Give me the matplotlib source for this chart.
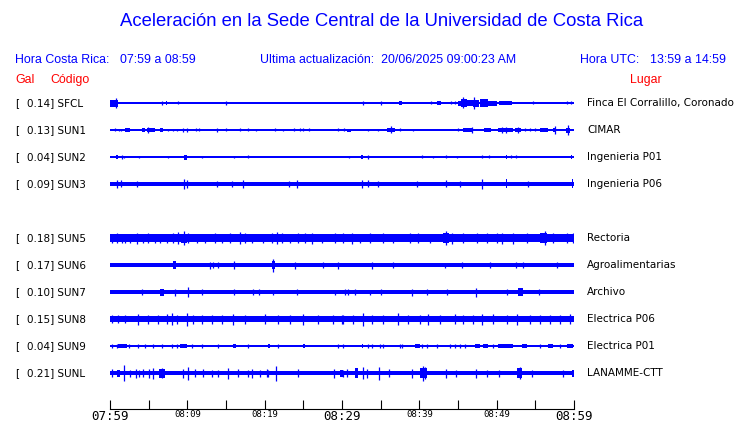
import matplotlib
matplotlib.use("Agg")
import matplotlib.pyplot as plt

# estaciones, de arriba hacia abajo (la fila 4 queda vacia en el original)
codigos = ["SFCL", "SUN1", "SUN2", "SUN3", "SUN5", "SUN6", "SUN7", "SUN8", "SUN9", "SUNL"]
filas = [0, 1, 2, 3, 5, 6, 7, 8, 9, 10]
gal = [0.14, 0.13, 0.04, 0.09, 0.18, 0.17, 0.10, 0.15, 0.04, 0.21]
lugares = ["Finca El Corralillo, Coronado", "CIMAR", "Ingenieria P01", "Ingenieria P06",
           "Rectoria", "Agroalimentarias", "Archivo", "Electrica P06", "Electrica P01",
           "LANAMME-CTT"]

# nivel de ruido de fondo de cada traza (amplitud relativa)
ruido = [0.7, 0.7, 0.7, 2.0, 3.6, 1.7, 1.8, 2.8, 0.8, 2.2]

# eventos: (minuto inicio, minuto fin, amplitud)
# minutos contados desde las 07:59; inicio == fin es un pico aislado
ev_sfcl = [(0.0, 1.0, 3.5), (0.77, 0.77, 5), (6.77, 6.77, 2), (7.2, 7.35, 2), (8.84, 8.84, 1.5),
           (15.04, 15.04, 2), (32.76, 32.76, 2), (35.08, 35.08, 2), (37.4, 37.7, 2),
           (41.46, 41.46, 1.5), (42.3, 42.8, 2), (44.09, 44.09, 1.5), (44.61, 44.61, 1.5),
           (45.04, 45.4, 2.5), (45.4, 46.1, 4), (45.69, 45.69, 5.5), (46.1, 46.9, 3),
           (46.9, 47.76, 3.5), (47.07, 47.07, 6), (47.84, 48.92, 4), (48.92, 50.0, 2.5),
           (50.34, 51.94, 2), (54.7, 54.7, 1.5), (59.1, 59.1, 1.5), (59.6, 59.6, 1.5)]
ev_sun1 = [(0.65, 0.65, 1.5), (1.16, 1.16, 1), (1.42, 1.42, 1), (1.94, 2.6, 2), (4.18, 4.5, 2),
           (4.74, 5.82, 2), (4.96, 4.96, 3), (6.5, 6.9, 2), (7.54, 7.54, 1), (8.2, 8.2, 1),
           (8.6, 8.6, 1), (9.5, 9.5, 2), (9.9, 9.9, 2), (11.1, 11.1, 1.5), (11.5, 11.5, 1.5),
           (13.84, 13.84, 2), (14.96, 14.96, 1.5), (16.86, 16.86, 1.5), (17.89, 17.89, 1.5),
           (18.84, 18.84, 1), (21.34, 21.34, 1.5), (22.42, 22.42, 1), (23.84, 23.84, 1.5),
           (24.58, 24.58, 1.5), (25.0, 25.0, 1.5), (25.73, 25.73, 1.5), (29.53, 29.53, 1.5),
           (30.2, 30.2, 1.5), (30.7, 31.2, 1.5), (33.4, 33.4, 1), (34.7, 34.7, 1),
           (35.8, 36.9, 2), (36.4, 36.4, 3.5), (37.5, 37.5, 1.5), (39.2, 39.2, 1),
           (45.0, 45.0, 1.5), (45.7, 46.8, 2), (46.8, 46.8, 3), (48.3, 49.3, 2),
           (50.2, 52.1, 2), (50.65, 50.65, 3), (51.2, 51.2, 3), (52.4, 53.2, 2), (52.8, 52.8, 3),
           (53.7, 53.7, 1.5), (54.3, 54.3, 1.5), (55.0, 55.0, 1.5), (55.6, 56.7, 2),
           (57.3, 57.7, 2), (57.5, 57.5, 4), (59.0, 59.5, 2.5), (59.25, 59.25, 5)]
ev_sun2 = [(0.8, 1.0, 2), (1.5, 1.5, 2), (1.85, 1.85, 1), (3.7, 3.7, 1), (7.5, 7.5, 1),
           (9.6, 9.9, 2.5), (11.9, 11.9, 1), (16.0, 16.0, 1), (17.9, 17.9, 1.5), (30.9, 30.9, 1),
           (32.4, 32.7, 2), (33.4, 33.4, 2), (40.3, 40.3, 1.5), (41.8, 41.8, 1), (43.4, 43.4, 1.5),
           (44.9, 44.9, 1), (48.1, 48.1, 1.5), (49.0, 49.0, 1.5), (51.2, 51.4, 2),
           (51.9, 51.9, 1.5), (52.5, 52.5, 1.5), (59.6, 59.8, 2)]
ev_sun3 = [(0.9, 0.9, 4), (1.4, 1.4, 3.5), (3.5, 3.5, 3), (9.6, 9.6, 5), (9.9, 9.9, 4),
           (13.9, 13.9, 3), (15.8, 15.8, 3), (17.2, 17.2, 4), (23.2, 23.2, 3), (24.2, 24.2, 4),
           (32.6, 32.6, 4), (33.4, 33.4, 3.5), (34.7, 34.7, 3), (39.7, 39.7, 3), (43.4, 43.4, 3.5),
           (45.2, 45.2, 3), (48.1, 48.1, 5), (51.2, 51.4, 4.5), (54.0, 54.0, 3), (59.7, 59.9, 4.5)]
ev_sun5 = [(0.22, 0.22, 4.5), (0.86, 0.86, 5), (1.51, 1.51, 4.5), (1.94, 1.94, 4.5),
           (2.59, 2.59, 4.5), (3.53, 3.53, 5.5), (4.31, 4.31, 4.5), (4.96, 4.96, 5),
           (5.82, 5.82, 4.5), (6.47, 6.47, 4.5), (7.33, 7.33, 4.5), (8.19, 8.19, 5),
           (8.75, 8.75, 6), (9.2, 9.9, 4.5), (9.57, 9.57, 7), (10.13, 10.13, 5), (11.21, 11.21, 4.5),
           (12.28, 12.28, 4.5), (13.58, 13.58, 5), (14.44, 14.44, 4.5), (15.52, 15.52, 5),
           (16.81, 16.81, 6), (17.46, 17.46, 5), (18.32, 18.32, 4.5), (19.83, 19.83, 4.5),
           (20.91, 20.91, 5), (21.55, 21.55, 6), (22.2, 22.2, 5), (23.28, 23.28, 4.5),
           (24.35, 24.35, 5), (25.22, 25.22, 5), (26.08, 26.08, 5.5), (27.37, 27.37, 4.5),
           (29.1, 29.1, 5), (30.17, 30.17, 5), (31.25, 31.25, 5.5), (32.33, 32.33, 4.5),
           (33.62, 33.62, 5), (35.35, 35.35, 5), (36.64, 36.64, 4.5), (38.79, 38.79, 5),
           (39.87, 39.87, 5), (41.38, 41.38, 4.5), (43.0, 43.9, 5), (43.45, 43.45, 7),
           (44.18, 44.18, 5.5), (45.69, 45.69, 5), (47.41, 47.41, 5), (48.71, 48.71, 5),
           (50.0, 50.0, 5), (50.65, 50.65, 5.5), (52.16, 52.16, 5.5), (53.88, 53.88, 5),
           (55.6, 56.5, 5), (56.25, 56.25, 7), (57.33, 57.33, 5), (59.05, 59.05, 5), (59.9, 59.9, 5)]
ev_sun6 = [(8.19, 8.5, 4), (12.93, 12.93, 3.5), (13.36, 13.36, 3), (14.0, 14.0, 3),
           (16.08, 16.08, 4), (20.9, 21.3, 4), (21.04, 21.04, 6.5), (23.92, 23.92, 3.5),
           (27.58, 27.58, 3), (29.5, 29.5, 3.5), (33.84, 33.84, 3.5), (36.64, 36.64, 3),
           (43.38, 43.38, 2.5), (45.54, 45.54, 3), (49.2, 49.2, 3), (52.46, 52.46, 3),
           (53.45, 53.45, 3), (57.76, 57.76, 3)]
ev_sun7 = [(4.09, 4.09, 3), (6.46, 6.98, 3.5), (8.4, 8.4, 3.5), (10.04, 10.04, 5),
           (11.85, 11.85, 3), (16.08, 16.08, 3), (18.45, 18.45, 3), (19.31, 19.31, 3),
           (21.12, 21.12, 2.5), (24.14, 24.14, 3), (29.1, 29.1, 2.5), (30.39, 30.39, 3),
           (30.82, 30.82, 3), (31.68, 31.68, 3), (33.62, 33.62, 2.5), (35.04, 35.04, 3),
           (39.01, 39.01, 3.5), (41.03, 41.03, 3), (43.53, 43.53, 3), (47.28, 47.28, 4.5),
           (51.29, 51.29, 3), (52.8, 53.36, 4), (55.52, 55.52, 3)]
ev_sun8 = [(0.22, 0.22, 4), (1.08, 1.08, 4), (1.94, 1.94, 4), (3.66, 3.66, 5.5), (4.96, 4.96, 4.5),
           (6.25, 6.25, 4.5), (7.33, 7.33, 5), (7.97, 7.97, 6), (8.62, 8.62, 4.5), (9.91, 9.91, 6.5),
           (10.78, 10.78, 4.5), (11.85, 11.85, 4.5), (13.15, 13.15, 4.5), (14.44, 14.44, 4.5),
           (15.95, 15.95, 5.5), (17.46, 17.46, 4.5), (20.04, 20.04, 5), (21.77, 21.77, 4.5),
           (23.28, 23.28, 4.5), (25.0, 25.0, 5.5), (26.94, 26.94, 4.5), (28.88, 28.88, 4.5),
           (29.96, 29.96, 4.5), (30.17, 30.17, 4.5), (31.46, 31.46, 4.5), (32.67, 32.67, 6.5),
           (33.84, 33.84, 4.5), (35.34, 35.34, 4.5), (37.28, 37.28, 6), (38.58, 38.58, 4.5),
           (40.09, 40.09, 4.5), (41.16, 41.16, 5.5), (42.67, 42.67, 4.5), (44.61, 44.61, 5),
           (45.69, 45.69, 4.5), (46.98, 46.98, 4.5), (48.06, 48.06, 5.5), (49.57, 49.57, 5),
           (51.29, 51.29, 4.5), (52.59, 52.59, 5.5), (54.31, 54.31, 4.5), (55.6, 55.6, 4.5),
           (56.9, 56.9, 4.5), (58.19, 58.19, 4.5), (59.48, 59.48, 5)]
ev_sun9 = [(0.22, 0.22, 1.8), (0.86, 0.86, 1.8), (1.08, 2.15, 1.6), (2.46, 2.46, 1.8),
           (3.66, 3.66, 1.8), (4.53, 4.53, 1.8), (5.6, 5.6, 1.8), (6.68, 6.68, 1.8),
           (7.97, 7.97, 1.8), (8.62, 8.62, 1.8), (9.05, 9.91, 1.6), (10.65, 10.65, 1.8),
           (11.85, 11.85, 1.8), (14.0, 14.0, 1.8), (15.95, 16.25, 1.6), (17.89, 17.89, 1.8),
           (20.39, 20.69, 1.6), (21.77, 21.77, 1.8), (25.0, 25.22, 1.6), (29.53, 29.53, 1.8),
           (30.09, 30.09, 1.8), (32.54, 32.76, 1.6), (33.4, 33.4, 1.8), (33.84, 33.84, 1.8),
           (34.91, 34.91, 1.8), (35.34, 35.34, 1.8), (37.5, 37.5, 1.8), (37.71, 37.71, 1.8),
           (39.44, 40.09, 1.6), (40.3, 40.3, 1.8), (40.95, 40.95, 1.8), (42.24, 42.24, 1.8),
           (43.96, 43.96, 1.8), (44.61, 44.61, 1.8), (45.26, 45.26, 1.8), (45.9, 45.9, 1.8),
           (47.2, 47.84, 1.6), (48.27, 48.92, 1.6), (49.57, 49.57, 1.8), (50.21, 52.15, 1.6),
           (53.23, 53.88, 1.6), (55.6, 55.6, 1.8), (56.68, 57.33, 1.6), (58.19, 58.19, 1.8),
           (59.05, 59.91, 1.6)]
ev_sunl = [(0.22, 0.22, 4), (0.86, 1.29, 3.5), (1.85, 1.85, 8), (2.59, 2.59, 3.5), (3.32, 3.32, 4.5),
           (3.79, 3.79, 3.5), (4.31, 4.31, 4), (5.09, 5.09, 4.5), (5.6, 5.6, 5.5), (6.38, 7.11, 4.5),
           (6.68, 6.68, 5), (9.48, 9.48, 4.5), (10.04, 10.04, 6.5), (10.99, 10.99, 4),
           (12.07, 12.07, 4), (13.23, 13.23, 3.5), (14.0, 14.0, 3.5), (15.22, 15.22, 5.5),
           (16.51, 16.51, 4), (17.89, 17.89, 3.5), (18.32, 18.32, 4.5), (19.4, 19.4, 3.5),
           (20.26, 20.26, 4), (20.48, 20.48, 3.5), (21.42, 21.42, 7.5), (24.27, 24.27, 4),
           (29.01, 29.01, 4.5), (29.74, 30.17, 3.5), (30.09, 30.09, 3.5), (30.69, 30.69, 4),
           (31.68, 32.11, 5), (32.67, 32.67, 6), (33.19, 33.19, 4.5), (34.83, 34.83, 6.5),
           (36.12, 36.12, 4), (39.01, 39.01, 4.5), (40.09, 41.03, 5), (40.52, 40.52, 7.5),
           (40.73, 40.73, 6), (43.45, 43.45, 4.5), (44.74, 44.74, 3.5), (47.33, 47.33, 4.5),
           (48.71, 48.71, 3.5), (50.34, 50.34, 3.5), (52.59, 53.23, 5), (53.02, 53.02, 6),
           (54.53, 54.53, 3.5), (58.53, 58.53, 3.5), (59.7, 60.0, 3.5)]
eventos = [ev_sfcl, ev_sun1, ev_sun2, ev_sun3, ev_sun5, ev_sun6, ev_sun7, ev_sun8, ev_sun9, ev_sunl]

ticks_min = list(range(0, 61, 5))
ticks_txt = ["07:59", "", "08:09", "", "08:19", "", "08:29", "", "08:39", "", "08:49", "", "08:59"]

W, H = 740, 423
AZUL = "#0000ff"
ROJO = "#ff0000"

fig = plt.figure(figsize=(W / 100, H / 100), dpi=100)

def px(x, y):
    return x / W, 1 - y / H

# zona de trazas: x 110..574 px, eje inferior en y=409 px
ax = fig.add_axes([110 / W, 1 - 409 / H, 464 / W, (409 - 88) / H])
ax.set_xlim(0, 60)
ax.set_ylim(409, 88)

for fila, base, evs in zip(filas, ruido, eventos):
    yc = 103 + 27 * fila
    ax.fill_between([0, 60], yc - base, yc + base, color=AZUL, lw=0)
    picos = [e for e in evs if e[0] == e[1]]
    bloques = [e for e in evs if e[0] != e[1]]
    for t0, t1, a in bloques:
        ax.fill_between([t0, t1], yc - a, yc + a, color=AZUL, lw=0)
    ax.vlines([p[0] for p in picos], [yc - p[2] for p in picos], [yc + p[2] for p in picos],
              color=AZUL, lw=0.9)

for s in ["left", "right", "top"]:
    ax.spines[s].set_visible(False)
ax.spines["bottom"].set_linewidth(0.8)
ax.set_yticks([])
ax.set_xticks(ticks_min)
ax.set_xticklabels(ticks_txt)
ax.tick_params(axis="x", direction="in", length=6.5, width=0.8, pad=0.5)
for etiqueta in ax.get_xticklabels():
    etiqueta.set_family("DejaVu Sans Mono")
    if etiqueta.get_text() in ("07:59", "08:29", "08:59"):
        etiqueta.set_fontsize(9)
    else:
        etiqueta.set_fontsize(6.5)

# titulo y encabezados
fig.text(*px(381.5, 22), "Aceleración en la Sede Central de la Universidad de Costa Rica",
         ha="center", va="center", color=AZUL, fontsize=13.3, family="Liberation Sans")
enc = dict(va="center", color=AZUL, fontsize=8.9, family="Liberation Sans")
fig.text(*px(15, 60), "Hora Costa Rica:", **enc)
fig.text(*px(120, 60), "07:59 a 08:59", **enc)
fig.text(*px(260, 60), "Ultima actualización:  20/06/2025 09:00:23 AM", **enc)
fig.text(*px(580, 60), "Hora UTC:", **enc)
fig.text(*px(650, 60), "13:59 a 14:59", **enc)

roj = dict(va="center", color=ROJO, fontsize=8.9, family="Liberation Sans")
fig.text(*px(15, 80), "Gal", **roj)
fig.text(*px(50, 80), "Código", **roj)
fig.text(*px(630, 80), "Lugar", **roj)

lbl = dict(va="center", color="black", fontsize=7.5, family="DejaVu Sans")
for fila, cod, g, lug in zip(filas, codigos, gal, lugares):
    yc = 103 + 27 * fila
    fig.text(*px(15, yc), "[", **lbl)
    fig.text(*px(27, yc), f"{g:.2f}] {cod}", **lbl)
    fig.text(*px(587, yc), lug, **lbl)

fig.savefig("out.png", dpi=100)
